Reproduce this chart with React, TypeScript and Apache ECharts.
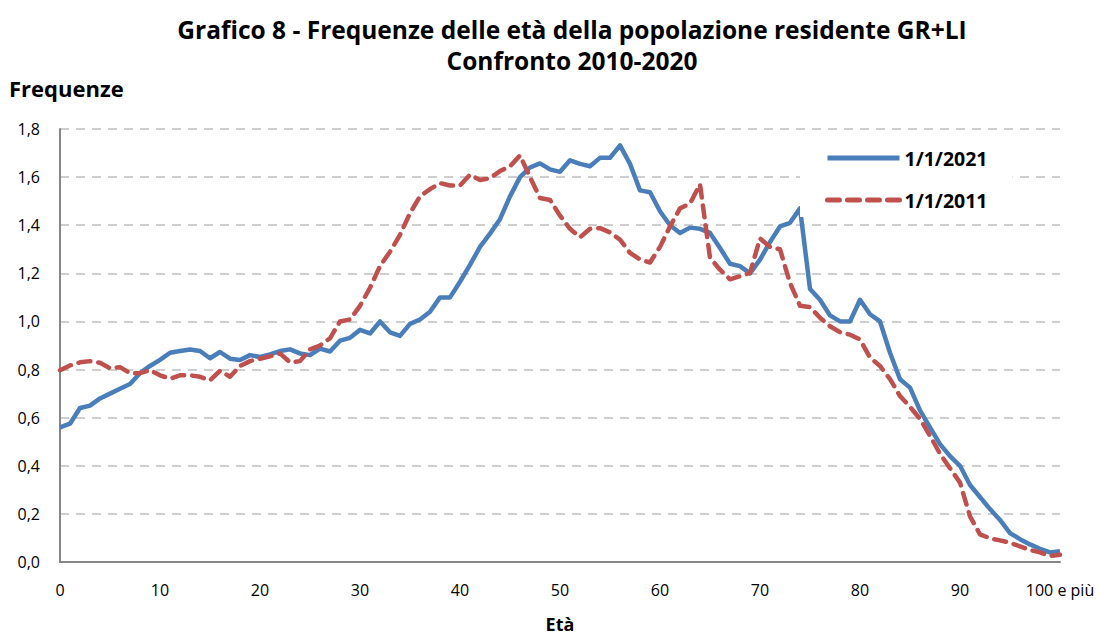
import React, { useEffect, useRef } from "react";
import * as echarts from "echarts";

const ages: string[] = Array.from({ length: 101 }, (_, i) => (i === 100 ? "100 e più" : String(i)));

const freq2021 = [
  0.56, 0.575, 0.64, 0.65, 0.68, 0.70, 0.72, 0.74, 0.785, 0.815,
  0.84, 0.87, 0.877, 0.883, 0.877, 0.847, 0.873, 0.845, 0.84, 0.86,
  0.852, 0.863, 0.877, 0.884, 0.867, 0.86, 0.887, 0.875, 0.92, 0.932,
  0.965, 0.95, 1.0, 0.955, 0.94, 0.99, 1.008, 1.04, 1.10, 1.10,
  1.165, 1.235, 1.31, 1.365, 1.425, 1.52, 1.60, 1.64, 1.657, 1.632,
  1.622, 1.67, 1.655, 1.645, 1.68, 1.68, 1.732, 1.655, 1.545, 1.537,
  1.458, 1.40, 1.368, 1.39, 1.385, 1.368, 1.305, 1.24, 1.23, 1.20,
  1.257, 1.33, 1.395, 1.41, 1.47, 1.135, 1.09, 1.025, 1.0, 1.0,
  1.09, 1.03, 1.0, 0.87, 0.76, 0.725, 0.63, 0.56, 0.49, 0.44,
  0.40, 0.32, 0.27, 0.22, 0.175, 0.12, 0.095, 0.073, 0.055, 0.04,
  0.045,
];

const freq2011 = [
  0.797, 0.817, 0.83, 0.835, 0.828, 0.805, 0.81, 0.785, 0.785, 0.798,
  0.776, 0.762, 0.776, 0.776, 0.77, 0.755, 0.795, 0.77, 0.815, 0.835,
  0.845, 0.855, 0.867, 0.83, 0.835, 0.884, 0.90, 0.93, 1.0, 1.008,
  1.065, 1.14, 1.23, 1.29, 1.36, 1.45, 1.52, 1.55, 1.575, 1.565,
  1.565, 1.61, 1.588, 1.596, 1.625, 1.645, 1.69, 1.60, 1.513, 1.505,
  1.44, 1.385, 1.35, 1.385, 1.388, 1.37, 1.34, 1.285, 1.258, 1.245,
  1.31, 1.395, 1.47, 1.49, 1.57, 1.265, 1.215, 1.175, 1.188, 1.202,
  1.345, 1.31, 1.30, 1.16, 1.065, 1.06, 1.015, 0.98, 0.955, 0.945,
  0.925, 0.85, 0.815, 0.76, 0.69, 0.645, 0.595, 0.525, 0.45, 0.39,
  0.33, 0.19, 0.115, 0.098, 0.09, 0.08, 0.065, 0.05, 0.04, 0.025,
  0.03,
];

const seriesNames = ["1/1/2021", "1/1/2011"];
const titleLines = [
  "Grafico 8 - Frequenze delle età della popolazione residente GR+LI",
  "Confronto 2010-2020",
];
const yAxisTitle = "Frequenze";
const xAxisTitle = "Età";

const FONT = "'Open Sans', 'Noto Sans', sans-serif";

export default function App() {
  const ref = useRef<HTMLDivElement>(null);
  useEffect(() => {
    if (!ref.current) return;
    const chart = echarts.init(ref.current, undefined, { renderer: "svg" });
    chart.setOption({
      animation: false,
      backgroundColor: "#fff",
      textStyle: { fontFamily: FONT },
      grid: { left: 60, top: 129, width: 1000, height: 433, containLabel: false, outerBoundsMode: "none" },
      graphic: [
        {
          type: "text", x: 572, y: 29,
          style: { text: titleLines[0], fontSize: 24.5, fontWeight: "bold", fontFamily: FONT, fill: "#000", textAlign: "center", textVerticalAlign: "middle" },
        },
        {
          type: "text", x: 572, y: 60,
          style: { text: titleLines[1], fontSize: 24.5, fontWeight: "bold", fontFamily: FONT, fill: "#000", textAlign: "center", textVerticalAlign: "middle" },
        },
        {
          type: "text", x: 9, y: 88,
          style: { text: yAxisTitle, fontSize: 22, fontWeight: "bold", fontFamily: FONT, fill: "#000", textAlign: "left", textVerticalAlign: "middle" },
        },
      ],
      legend: {
        orient: "vertical",
        left: 800,
        top: 135,
        padding: [12, 25, 6, 25],
        backgroundColor: "#fff",
        itemWidth: 72,
        itemHeight: 22,
        itemGap: 20,
        data: seriesNames,
        itemStyle: { opacity: 0 },
        lineStyle: { width: 5 },
        textStyle: { fontSize: 19.5, fontWeight: "bold", color: "#000", fontFamily: FONT, lineHeight: 22 },
      },
      xAxis: {
        type: "category",
        data: ages,
        boundaryGap: false,
        name: xAxisTitle,
        nameLocation: "middle",
        nameGap: 53,
        nameTextStyle: { fontSize: 18, fontWeight: "bold", color: "#000", fontFamily: FONT },
        axisLine: { lineStyle: { color: "#868686", width: 2 } },
        axisTick: { show: false },
        axisLabel: { interval: 9, fontSize: 16, color: "#000", margin: 20, fontFamily: FONT },
        splitLine: { show: false },
      },
      yAxis: {
        type: "value",
        min: 0,
        max: 1.8,
        interval: 0.2,
        axisLine: { show: true, lineStyle: { color: "#868686", width: 2 } },
        axisTick: { show: false },
        axisLabel: {
          fontSize: 16, color: "#000", margin: 20, fontFamily: FONT,
          formatter: (v: number) => v.toFixed(1).replace(".", ","),
        },
        splitLine: { lineStyle: { color: "#bfbfbf", width: 1.5, type: [9, 7] } },
      },
      series: [
        {
          name: seriesNames[0],
          type: "line",
          data: freq2021,
          symbol: "none",
          showSymbol: false,
          lineStyle: { color: "#4a7ebb", width: 4.5, join: "round" },
          itemStyle: { color: "#4a7ebb" },
          z: 2,
        },
        {
          name: seriesNames[1],
          type: "line",
          data: freq2011,
          symbol: "none",
          showSymbol: false,
          lineStyle: { color: "#c0504d", width: 4.5, type: [12, 8], cap: "round", join: "round" },
          itemStyle: { color: "#c0504d" },
          z: 3,
        },
      ],
    });
    return () => chart.dispose();
  }, []);
  return (
    <div
      ref={ref}
      style={{ position: "fixed", left: 0, top: 0, width: 1101, height: 635, background: "#fff" }}
    />
  );
}
